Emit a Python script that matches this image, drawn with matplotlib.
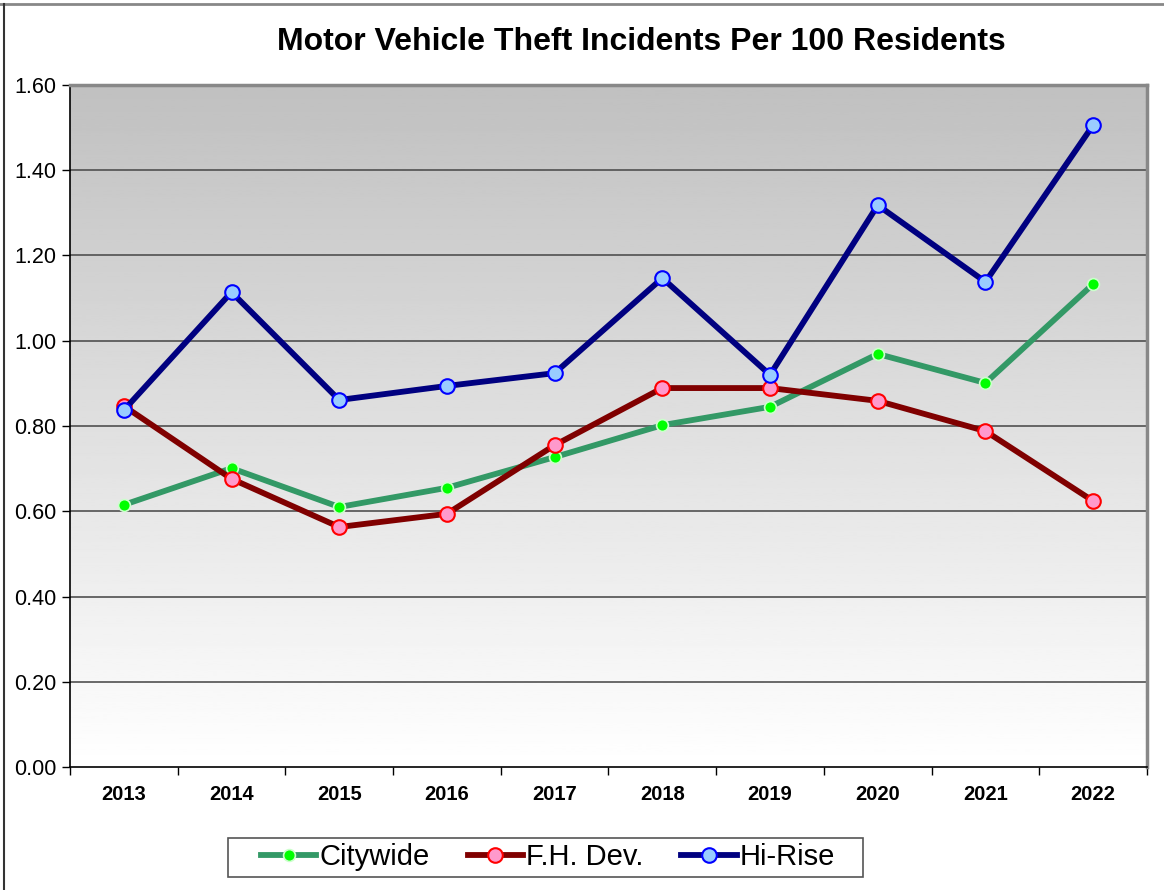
import matplotlib.pyplot as plt
import numpy as np
from matplotlib.lines import Line2D
from matplotlib.patches import Rectangle

plt.rcParams['font.family'] = ['Liberation Sans', 'DejaVu Sans']

# data
years = ['2013', '2014', '2015', '2016', '2017', '2018', '2019', '2020', '2021', '2022']
citywide = [0.615, 0.701, 0.610, 0.655, 0.727, 0.802, 0.845, 0.969, 0.901, 1.133]
fh_dev = [0.847, 0.676, 0.563, 0.594, 0.755, 0.889, 0.889, 0.859, 0.788, 0.624]
hi_rise = [0.837, 1.114, 0.861, 0.894, 0.924, 1.147, 0.920, 1.318, 1.138, 1.506]

fig = plt.figure(figsize=(11.64, 8.90), dpi=100)
ax = fig.add_axes([0.0601, 0.1382, 0.9253, 0.7663])

x = np.arange(len(years))

# grey-to-white background gradient (white at bottom, grey at top)
grad = np.linspace(1.0, 0.753, 256).reshape(-1, 1)
ax.imshow(grad, cmap='gray', vmin=0, vmax=1, aspect='auto', origin='lower',
          extent=(-0.5, len(years) - 0.5, 0, 1.6), zorder=0)
ax.set_xlim(-0.5, len(years) - 0.5)
ax.set_ylim(0, 1.6)

yt = np.arange(0, 1.61, 0.2)
for v in yt[1:]:
    ax.axhline(v, color='#505050', lw=1.2, zorder=1)

ax.plot(x, citywide, color='#339966', lw=4.2, marker='o', ms=8.5,
        mfc='#00ff00', mec='#ccffcc', mew=1.2, label='Citywide', zorder=3)
ax.plot(x, fh_dev, color='#800000', lw=4.2, marker='o', ms=10.5,
        mfc='#ff99cc', mec='#ff0000', mew=1.5, label='F.H. Dev.', zorder=4)
ax.plot(x, hi_rise, color='#000080', lw=4.2, marker='o', ms=10.5,
        mfc='#99ccff', mec='#0000ff', mew=1.5, label='Hi-Rise', zorder=5)

ax.set_yticks(yt)
ax.set_yticklabels(['%.2f' % v for v in yt], fontsize=15.5)
ax.set_xticks(x)
ax.set_xticklabels(years, fontsize=14.5, fontweight='bold')
ax.set_xticks(np.arange(-0.5, len(years)), minor=True)
ax.tick_params(axis='x', which='major', length=0, pad=13)
ax.tick_params(axis='x', which='minor', length=6, width=1, direction='out')
ax.tick_params(axis='y', length=6, width=1, direction='out', pad=4)

for s in ['left', 'bottom']:
    ax.spines[s].set_color('black')
    ax.spines[s].set_linewidth(1.2)
for s in ['top', 'right']:
    ax.spines[s].set_color('#888888')
    ax.spines[s].set_linewidth(2.5)

fig.text(641 / 1164, 1 - 42 / 890, 'Motor Vehicle Theft Incidents Per 100 Residents',
         ha='center', va='center', fontsize=23, fontweight='bold')

# legend without its own frame, box drawn separately
fig.legend(loc='center', bbox_to_anchor=(548 / 1164, 1 - 857 / 890),
           ncol=3, fontsize=21, frameon=False,
           handlelength=1.9, handletextpad=0.1, columnspacing=1.3,
           borderpad=0.2, borderaxespad=0)
fig.add_artist(Rectangle((228 / 1164, 1 - 877 / 890), 635 / 1164, 39 / 890,
                         transform=fig.transFigure, fill=False,
                         edgecolor='#555555', lw=1.2))

# outer chart frame
fig.add_artist(Line2D([0, 1], [1 - 4 / 890, 1 - 4 / 890], color='#888888', lw=2,
                      transform=fig.transFigure))
fig.add_artist(Line2D([4 / 1164, 4 / 1164], [0, 1 - 4 / 890], color='#333333', lw=1.5,
                      transform=fig.transFigure))

fig.savefig('out.png', dpi=100)
